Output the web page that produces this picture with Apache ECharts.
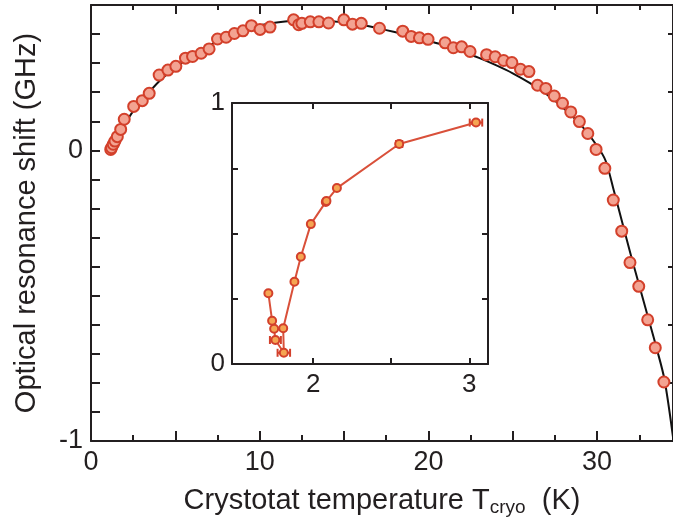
<!DOCTYPE html>
<html>
<head>
<meta charset="utf-8">
<script src="https://cdn.jsdelivr.net/npm/echarts@6/dist/echarts.min.js"></script>
<style>
  html, body { margin: 0; padding: 0; background: #fff; }
  #main { width: 673px; height: 525px; }
</style>
</head>
<body>
<div id="main"></div>
<script>
// measured points, main panel
const mainT = [1.17,1.22,1.32,1.42,1.56,1.76,1.97,2.53,3.04,3.45,4.04,4.56,5.03,5.60,6.02,6.53,7.00,7.50,8.01,8.50,9.01,9.51,10.02,10.61,12.01,12.31,12.50,13.0,13.51,14.08,14.99,15.50,16.02,17.10,18.48,18.98,19.47,19.98,20.99,21.48,21.97,22.47,23.45,23.96,24.46,24.95,25.46,25.96,26.47,26.96,27.46,27.95,28.44,28.95,29.45,29.94,30.46,30.96,31.46,31.95,32.47,33.0,33.45,33.96];
const mainShift = [0.003,0.009,0.021,0.032,0.047,0.072,0.107,0.151,0.171,0.196,0.259,0.276,0.289,0.317,0.323,0.334,0.349,0.383,0.389,0.402,0.411,0.429,0.416,0.424,0.449,0.432,0.437,0.442,0.442,0.438,0.449,0.434,0.437,0.420,0.410,0.392,0.387,0.382,0.370,0.353,0.356,0.340,0.329,0.322,0.309,0.302,0.279,0.271,0.224,0.213,0.187,0.162,0.132,0.099,0.058,0.003,-0.062,-0.171,-0.278,-0.386,-0.468,-0.583,-0.679,-0.797];

// black fit curve
const fitT = [1.1,1.5,2,2.5,3,4,5,6,7,8,9,10,11,12,13,14,15,16,17,18,19,20,21,22,23,24,25,26,27,28,29,30,30.5,31,31.5,32,32.5,33,33.5,34,34.6];
const fitShift = [-0.015,0.04,0.09,0.135,0.17,0.235,0.285,0.325,0.36,0.39,0.413,0.43,0.44,0.446,0.448,0.446,0.44,0.432,0.42,0.407,0.393,0.377,0.36,0.34,0.318,0.293,0.265,0.232,0.193,0.146,0.09,0.015,-0.035,-0.14,-0.25,-0.36,-0.465,-0.57,-0.675,-0.79,-1.03];

// inset
const insetT = [1.713,1.737,1.750,1.758,1.812,1.808,1.880,1.921,1.985,2.081,2.085,2.152,2.551,3.043];
const insetShift = [0.271,0.166,0.135,0.092,0.043,0.137,0.315,0.411,0.536,0.621,0.625,0.674,0.843,0.925];
const insetErr = [0,0,0,0.035,0.04,0,0,0,0,0,0,0,0.02,0.04];

const mainTicks = [0,5,10,15,20,25,30];
const mainMinor = [2.5,7.5,12.5,17.5,22.5,27.5,32.5];
const mainXLabels = [0,10,20,30];
const mainYLabels = [-1,0];

const FONT = 'Liberation Sans, Arial, Helvetica, sans-serif';
const INK = '#231f20';
const RED = '#d3402b';

const mainPts = mainT.map((t, i) => [t, mainShift[i]]);
const fitPts = fitT.map((t, i) => [t, fitShift[i]]);
const insetPts = insetT.map((t, i) => [t, insetShift[i]]);
const errPts = [];
insetT.forEach((t, i) => { if (insetErr[i] > 0) errPts.push([t, insetShift[i], insetErr[i]]); });

let chart = echarts.init(document.getElementById('main'));

const axLine = { show: true, onZero: false, lineStyle: { color: INK, width: 2 } };
const noLine = { show: false, onZero: false };
const noLabel = { show: false };
const noSplit = { show: false };
const tick = (len, vals) => {
  const t = { inside: true, length: len, lineStyle: { color: INK, width: 2 } };
  if (vals) t.customValues = vals;
  return t;
};

chart.setOption({
  animation: false,
  grid: [
    { left: 91, top: 5, width: 583, height: 436 },
    { left: 232, top: 103, width: 256, height: 261, backgroundColor: '#fff', show: true, borderWidth: 0 }
  ],
  xAxis: [
    {
      gridIndex: 0, type: 'value', min: 0, max: 34.5, position: 'bottom',
      axisLine: axLine, axisTick: tick(10, mainTicks),
      axisLabel: { customValues: mainXLabels, fontSize: 27, fontFamily: FONT, color: INK, margin: 8 },
      splitLine: noSplit,
      name: '{a|Crystotat temperature T}{b|cryo}{a|  (K)}',
      nameLocation: 'middle', nameGap: 44,
      nameTextStyle: {
        rich: {
          a: { fontSize: 29, fontFamily: FONT, color: INK },
          b: { fontSize: 19, fontFamily: FONT, color: INK, padding: [13, 0, 0, 0] }
        }
      }
    },
    {
      gridIndex: 0, type: 'value', min: 0, max: 34.5, position: 'bottom',
      axisLine: noLine, axisTick: tick(6, mainMinor),
      axisLabel: noLabel, splitLine: noSplit
    },
    {
      gridIndex: 0, type: 'value', min: 0, max: 34.5, position: 'top',
      axisLine: axLine, axisTick: tick(9, mainTicks),
      axisLabel: noLabel, splitLine: noSplit
    },
    {
      gridIndex: 0, type: 'value', min: 0, max: 34.5, position: 'top',
      axisLine: noLine, axisTick: tick(5, mainMinor),
      axisLabel: noLabel, splitLine: noSplit
    },
    {
      gridIndex: 1, type: 'value', min: 1.48, max: 3.12, position: 'bottom',
      axisLine: axLine, axisTick: tick(6, [2, 2.5, 3]),
      axisLabel: { customValues: [2, 3], fontSize: 26, fontFamily: FONT, color: INK, margin: 8 },
      splitLine: noSplit
    },
    {
      gridIndex: 1, type: 'value', min: 1.48, max: 3.12, position: 'top',
      axisLine: axLine, axisTick: tick(6, [2, 2.5, 3]),
      axisLabel: noLabel, splitLine: noSplit
    }
  ],
  yAxis: [
    {
      gridIndex: 0, type: 'value', min: -1, max: 0.5, interval: 0.1, position: 'left',
      axisLine: axLine, axisTick: tick(9),
      axisLabel: { customValues: mainYLabels, fontSize: 27, fontFamily: FONT, color: INK, margin: 8 },
      splitLine: noSplit,
      name: 'Optical resonance shift (GHz)',
      nameLocation: 'middle', nameGap: 50,
      nameTextStyle: { fontSize: 29, fontFamily: FONT, color: INK }
    },
    {
      gridIndex: 0, type: 'value', min: -1, max: 0.5, interval: 0.2, position: 'right',
      axisLine: axLine, axisTick: tick(5),
      axisLabel: noLabel, splitLine: noSplit
    },
    {
      gridIndex: 1, type: 'value', min: 0, max: 1, interval: 0.25, position: 'left',
      axisLine: axLine, axisTick: tick(6),
      axisLabel: { customValues: [0, 1], fontSize: 26, fontFamily: FONT, color: INK, margin: 7 },
      splitLine: noSplit
    },
    {
      gridIndex: 1, type: 'value', min: 0, max: 1, interval: 0.25, position: 'right',
      axisLine: axLine, axisTick: tick(6),
      axisLabel: noLabel, splitLine: noSplit
    }
  ],
  series: [
    {
      type: 'line', xAxisIndex: 0, yAxisIndex: 0, data: fitPts,
      showSymbol: false, smooth: 0.3, clip: true,
      lineStyle: { color: '#111', width: 2 }, z: 2
    },
    {
      type: 'scatter', xAxisIndex: 0, yAxisIndex: 0, data: mainPts,
      symbol: 'circle', symbolSize: 11,
      itemStyle: { color: '#f3a392', borderColor: RED, borderWidth: 2, opacity: 1 }, z: 3
    },
    {
      type: 'custom', xAxisIndex: 4, yAxisIndex: 2, data: errPts, z: 4,
      renderItem: function (params, api) {
        const x = api.value(0), y = api.value(1), e = api.value(2);
        const lo = api.coord([x - e, y]);
        const hi = api.coord([x + e, y]);
        const st = { stroke: RED, lineWidth: 2 };
        return {
          type: 'group',
          children: [
            { type: 'line', shape: { x1: lo[0], y1: lo[1], x2: hi[0], y2: hi[1] }, style: st },
            { type: 'line', shape: { x1: lo[0], y1: lo[1] - 4, x2: lo[0], y2: lo[1] + 4 }, style: st },
            { type: 'line', shape: { x1: hi[0], y1: hi[1] - 4, x2: hi[0], y2: hi[1] + 4 }, style: st }
          ]
        };
      }
    },
    {
      type: 'line', xAxisIndex: 4, yAxisIndex: 2, data: insetPts,
      symbol: 'circle', symbolSize: 8, showAllSymbol: true,
      lineStyle: { color: '#d9503a', width: 2 },
      itemStyle: { color: '#f5a552', borderColor: RED, borderWidth: 2 }, z: 5
    }
  ]
});
</script>
</body>
</html>
